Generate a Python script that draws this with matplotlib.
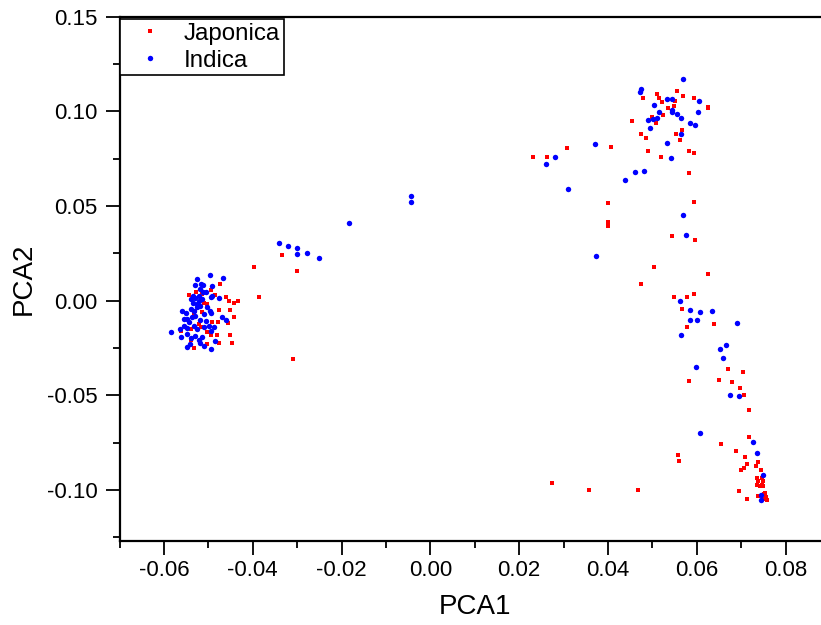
import matplotlib
matplotlib.use("Agg")
import matplotlib.pyplot as plt
from matplotlib.ticker import MultipleLocator, FormatStrFormatter

plt.rcParams['font.family'] = ['Liberation Sans', 'DejaVu Sans']

# Japonica (red squares)
jap_x = [-0.0334, -0.0398, -0.0300, -0.0387, -0.0310,
         0.0511, 0.0514, 0.0478, 0.0555, 0.0568, 0.0522, 0.0551, 0.0593, 0.0626, 0.0626,
         0.0534, 0.0548, 0.0523, 0.0500, 0.0453, 0.0509, 0.0567, 0.0554, 0.0474, 0.0485,
         0.0563, 0.0307, 0.0406, 0.0490, 0.0583, 0.0594, 0.0520, 0.0230, 0.0263, 0.0582,
         0.0399, 0.0594, 0.0399, 0.0401, 0.0545, 0.0595, 0.0503, 0.0625, 0.0474, 0.0548,
         0.0578, 0.0594, 0.0567, 0.0638, 0.0578, 0.0671, 0.0704, 0.0583, 0.0651, 0.0680,
         0.0698, 0.0706, 0.0718, 0.0717, 0.0655, 0.0689, 0.0557, 0.0559, 0.0709, 0.0737,
         0.0712, 0.0707, 0.0699, 0.0733, 0.0745, 0.0735, 0.0747, 0.0738, 0.0748, 0.0735,
         0.0747, 0.0750, 0.0742, 0.0273, 0.0357, 0.0467, 0.0694, 0.0753, 0.0751, 0.0737,
         0.0756, 0.0714, 0.0759, 0.0750,
         -0.0473, -0.0493, -0.0543, -0.0485, -0.0460, -0.0454, -0.0443, -0.0433, -0.0527,
         -0.0510, -0.0504, -0.0533, -0.0475, -0.0452, -0.0443, -0.0521, -0.0491, -0.0479,
         -0.0456, -0.0561, -0.0540, -0.0516, -0.0504, -0.0493, -0.0480, -0.0538, -0.0452,
         -0.0447, -0.0477, -0.0533, -0.0502, -0.0515, -0.0529, -0.0514]
jap_y = [0.0242, 0.0178, 0.0157, 0.0017, -0.0309,
         0.1089, 0.1071, 0.1071, 0.1105, 0.1082, 0.1048, 0.1052, 0.1073, 0.1022, 0.1015,
         0.1016, 0.1027, 0.0979, 0.0972, 0.0948, 0.0939, 0.0902, 0.0881, 0.0881, 0.0858,
         0.0849, 0.0804, 0.0814, 0.0789, 0.0788, 0.0780, 0.0761, 0.0759, 0.0759, 0.0672,
         0.0515, 0.0522, 0.0416, 0.0395, 0.0342, 0.0318, 0.0179, 0.0140, 0.0089, 0.0017,
         0.0020, 0.0033, -0.0043, -0.0121, -0.0142, -0.0362, -0.0378, -0.0424, -0.0419, -0.0432,
         -0.0462, -0.0501, -0.0579, -0.0720, -0.0760, -0.0797, -0.0818, -0.0847, -0.0826, -0.0852,
         -0.0864, -0.0882, -0.0894, -0.0873, -0.0894, -0.0938, -0.0938, -0.0952, -0.0952, -0.0975,
         -0.0975, -0.0982, -0.0982, -0.0961, -0.1003, -0.1000, -0.1005, -0.1014, -0.1023, -0.1032,
         -0.1035, -0.1049, -0.1051, -0.1049,
         0.0086, 0.0055, 0.0031, 0.0031, 0.0017, -0.0004, -0.0010, -0.0001, 0.0043,
         -0.0010, -0.0018, -0.0071, -0.0049, -0.0049, -0.0087, -0.0124, -0.0112, -0.0112,
         -0.0119, -0.0160, -0.0151, -0.0142, -0.0165, -0.0182, -0.0182, -0.0207, -0.0182,
         -0.0223, -0.0226, -0.0251, -0.0230, 0.0033, -0.0054, -0.0062]

# Indica (blue circles)
ind_x = [-0.0043, -0.0043, -0.0183, -0.0342, -0.0320, -0.0301, -0.0300, -0.0278, -0.0250,
         0.0570, 0.0474, 0.0472, 0.0533, 0.0543, 0.0605, 0.0503, 0.0515, 0.0543, 0.0545,
         0.0602, 0.0555, 0.0502, 0.0511, 0.0491, 0.0565, 0.0584, 0.0597, 0.0494, 0.0564,
         0.0532, 0.0371, 0.0541, 0.0280, 0.0260, 0.0481, 0.0460, 0.0439, 0.0311,
         0.0570, 0.0575, 0.0374, 0.0563, 0.0584, 0.0607, 0.0634, 0.0584, 0.0600, 0.0690,
         0.0564, 0.0665, 0.0653, 0.0658, 0.0599, 0.0674, 0.0694, 0.0608, 0.0726, 0.0736,
         0.0749, 0.0744, 0.0745,
         -0.0497, -0.0466, -0.0526, -0.0530, -0.0517, -0.0512, -0.0491, -0.0512, -0.0505,
         -0.0495, -0.0492, -0.0476, -0.0534, -0.0540, -0.0534, -0.0529, -0.0521, -0.0518,
         -0.0525, -0.0540, -0.0559, -0.0551, -0.0497, -0.0493, -0.0529, -0.0536, -0.0547,
         -0.0555, -0.0470, -0.0461, -0.0518, -0.0506, -0.0544, -0.0555, -0.0564, -0.0547,
         -0.0533, -0.0525, -0.0510, -0.0499, -0.0488, -0.0495, -0.0585, -0.0562, -0.0547,
         -0.0540, -0.0529, -0.0521, -0.0514, -0.0486, -0.0541, -0.0549, -0.0519, -0.0510,
         -0.0495, -0.0521, -0.0514, -0.0525, -0.0533, -0.0510, -0.0502, -0.0518]
ind_y = [0.0551, 0.0520, 0.0410, 0.0304, 0.0286, 0.0277, 0.0247, 0.0254, 0.0226,
         0.1170, 0.1117, 0.1100, 0.1063, 0.1063, 0.1052, 0.1031, 0.0997, 0.1006, 0.0999,
         0.0997, 0.0986, 0.0960, 0.0964, 0.0953, 0.0964, 0.0937, 0.0927, 0.0911, 0.0881,
         0.0835, 0.0825, 0.0756, 0.0759, 0.0722, 0.0684, 0.0677, 0.0636, 0.0590,
         0.0452, 0.0346, 0.0237, -0.0003, -0.0052, -0.0062, -0.0057, -0.0103, -0.0103, -0.0119,
         -0.0184, -0.0237, -0.0258, -0.0304, -0.0350, -0.0498, -0.0505, -0.0700, -0.0746, -0.0804,
         -0.0922, -0.1028, -0.1054,
         0.0135, 0.0119, 0.0114, 0.0084, 0.0087, 0.0082, 0.0078, 0.0043, 0.0047,
         0.0020, 0.0025, 0.0012, 0.0025, 0.0008, -0.0010, 0.0012, -0.0001, -0.0027,
         -0.0018, -0.0045, -0.0057, -0.0066, -0.0054, -0.0066, -0.0080, -0.0089, -0.0098,
         -0.0098, -0.0086, -0.0101, -0.0101, -0.0107, -0.0115, -0.0133, -0.0151, -0.0147,
         -0.0136, -0.0151, -0.0142, -0.0133, -0.0142, -0.0160, -0.0165, -0.0194, -0.0177,
         -0.0200, -0.0186, -0.0207, -0.0194, -0.0212, -0.0230, -0.0247, -0.0226, -0.0239,
         -0.0256, 0.0025, 0.0008, -0.0036, -0.0054, -0.0071, -0.0036, 0.0061]

series_names = ["Japonica", "Indica"]
x_ticks = [-0.06, -0.04, -0.02, 0.00, 0.02, 0.04, 0.06, 0.08]
y_ticks = [-0.10, -0.05, 0.00, 0.05, 0.10, 0.15]

fig = plt.figure(figsize=(8.21, 6.25), dpi=100)
ax = fig.add_axes([0.1456, 0.1344, 0.8654, 0.8389])

ax.plot(jap_x, jap_y, 's', color='#ff0000', ms=3.2, mew=0, label=series_names[0])
ax.plot(ind_x, ind_y, 'o', color='#0000ff', ms=3.9, mew=0, label=series_names[1])

ax.set_xlim(-0.07, 0.09)
ax.set_ylim(-0.127, 0.15)
ax.set_xticks(x_ticks)
ax.set_yticks(y_ticks)
ax.xaxis.set_minor_locator(MultipleLocator(0.01))
ax.yaxis.set_minor_locator(MultipleLocator(0.025))
ax.xaxis.set_major_formatter(FormatStrFormatter('%.2f'))
ax.yaxis.set_major_formatter(FormatStrFormatter('%.2f'))
ax.tick_params(which='major', direction='out', length=10, width=1.3, labelsize=16)
ax.tick_params(axis='x', which='major', pad=4)
ax.tick_params(axis='y', which='major', pad=6)
ax.tick_params(which='minor', direction='out', length=5, width=1.3)
ax.tick_params(top=False, right=False, which='both')

for s in ['left', 'bottom', 'top']:
    ax.spines[s].set_linewidth(1.6)
ax.spines['right'].set_visible(False)

ax.set_xlabel('PCA1', fontsize=20, labelpad=9)
ax.set_ylabel('PCA2', fontsize=20, labelpad=7)

leg = ax.legend(loc='upper left', bbox_to_anchor=(0.0, 0.995), borderaxespad=0,
                fontsize=17.4, frameon=True, fancybox=False, edgecolor='black',
                framealpha=1, handlelength=2.25, handletextpad=0.27, borderpad=0.15,
                labelspacing=0.2, markerscale=1.0)
leg.get_frame().set_linewidth(1.2)

fig.savefig('out.png', dpi=100)
